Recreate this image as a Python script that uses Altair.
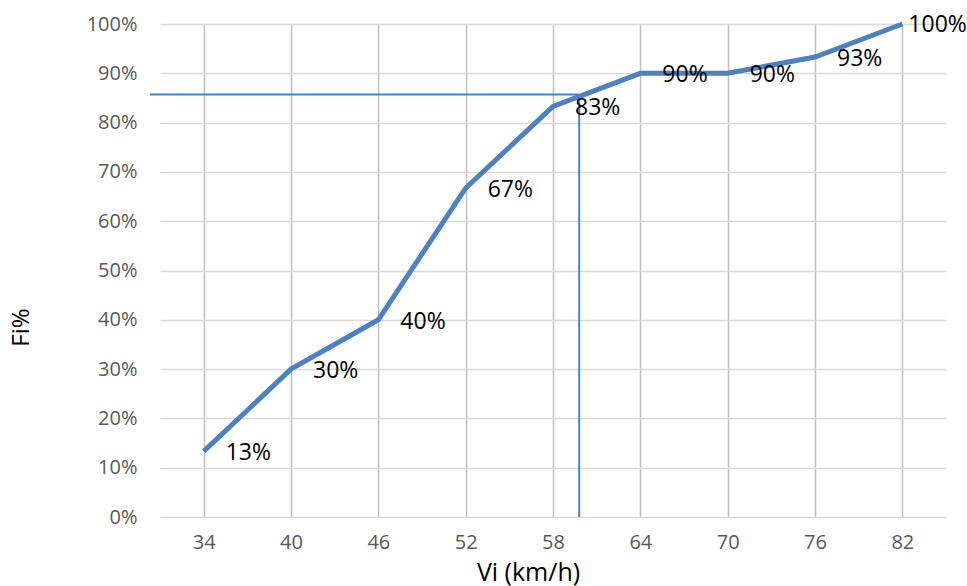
import altair as alt
import pandas as pd

# Data
vi = [34, 40, 46, 52, 58, 64, 70, 76, 82]
fi = [0.133, 0.30, 0.40, 0.667, 0.833, 0.90, 0.90, 0.933, 1.00]
labels = ["13%", "30%", "40%", "67%", "83%", "90%", "90%", "93%", "100%"]
y_ticks = [0, 0.1, 0.2, 0.3, 0.4, 0.5, 0.6, 0.7, 0.8, 0.9, 1.0]

# 85th percentile reference lines
ref_v = [59.8]
ref_f = [0.857]
ref_start = [30.3]
ref_bottom = [0.0]

df = pd.DataFrame({"vi": vi, "fi": fi, "label": labels})
ref_df = pd.DataFrame({"v": ref_v, "f": ref_f, "v0": ref_start, "f0": ref_bottom})

FONT = "Open Sans"
BLUE = "#4F81BD"

x_scale = alt.Scale(domain=[31, 85], nice=False, zero=False)
y_scale = alt.Scale(domain=[0, 1], nice=False)

x_axis = alt.Axis(
    values=vi, title="Vi (km/h)", grid=True, gridColor="#BFBFBF", gridWidth=1.5,
    domain=False, ticks=False, labelColor="#595959", labelFont=FONT, labelFontSize=20,
    labelPadding=15, titleFont=FONT, titleFontSize=25, titleFontWeight="normal",
    titleColor="#000000", titleX=368, titleY=63, titleBaseline="alphabetic", titleAlign="center",
)
y_axis = alt.Axis(
    values=y_ticks, format=".0%", title="Fi%", grid=True, gridColor="#D9D9D9", gridWidth=1.5,
    domain=False, ticks=False, labelColor="#595959", labelFont=FONT, labelFontSize=20,
    labelPadding=23, titleFont=FONT, titleFontSize=24, titleFontWeight="normal",
    titleColor="#000000", titleX=-139, titleY=303, titleBaseline="middle", titleAlign="center",
    titleAngle=270,
)

base = alt.Chart(df)

line = base.mark_line(color=BLUE, strokeWidth=5).encode(
    x=alt.X("vi:Q", scale=x_scale, axis=x_axis),
    y=alt.Y("fi:Q", scale=y_scale, axis=y_axis),
)

ref = alt.Chart(ref_df)
h_rule = ref.mark_rule(color=BLUE, strokeWidth=2, clip=False).encode(
    x=alt.X("v0:Q", scale=x_scale), x2="v:Q", y=alt.Y("f:Q", scale=y_scale)
)
v_rule = ref.mark_rule(color=BLUE, strokeWidth=2).encode(
    x=alt.X("v:Q", scale=x_scale), y=alt.Y("f0:Q", scale=y_scale), y2="f:Q"
)

text_main = base.transform_filter(alt.datum.vi < 82).mark_text(
    align="left", baseline="middle", dx=22, dy=2, font=FONT, fontSize=23, color="#000000"
).encode(x=alt.X("vi:Q", scale=x_scale), y=alt.Y("fi:Q", scale=y_scale), text="label:N")

text_last = base.transform_filter(alt.datum.vi >= 82).mark_text(
    align="left", baseline="middle", dx=6, dy=1, font=FONT, fontSize=23, color="#000000"
).encode(x=alt.X("vi:Q", scale=x_scale), y=alt.Y("fi:Q", scale=y_scale), text="label:N")

chart = (
    alt.layer(h_rule, v_rule, line, text_main, text_last)
    .properties(
        width=786, height=493,
        autosize=alt.AutoSizeParams(type="none"),
        padding={"left": 160, "top": 24, "right": 21, "bottom": 69},
        background="white",
    )
    .configure_view(stroke=None)
)

chart.save("out.html", embed_options={"renderer": "svg", "actions": False})
